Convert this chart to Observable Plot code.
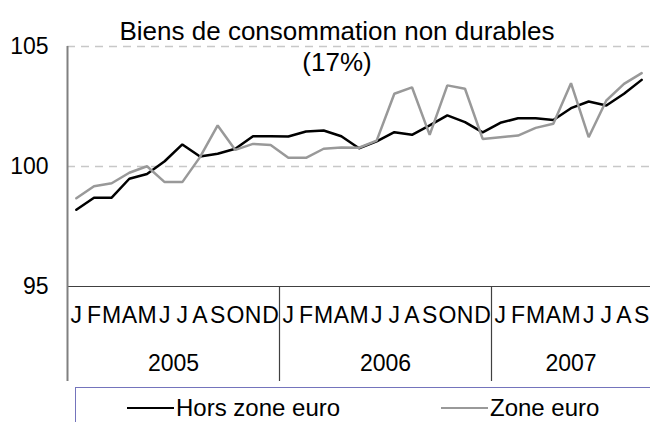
<!DOCTYPE html>
<html>
<head>
<meta charset="utf-8">
<script src="https://cdn.jsdelivr.net/npm/d3@7"></script>
<script src="https://cdn.jsdelivr.net/npm/@observablehq/plot@0.6"></script>
<style>
  html, body { margin: 0; padding: 0; background: #fff; }
  #wrap { position: relative; width: 650px; height: 423px; overflow: hidden; font-family: "Liberation Sans", Arial, sans-serif; }
  #legend { position: absolute; left: 75px; top: 387px; width: 574px; height: 34px;
            border-left: 1.5px solid #7474bc; border-top: 1.5px solid #7474bc; }
  .item { position: absolute; top: 8px; font-size: 24px; line-height: 24px; color: #000; display: flex; align-items: center; white-space: nowrap; }
  .sw { display: inline-block; width: 47px; height: 0; margin-right: 2px; }
</style>
</head>
<body>
<div id="wrap">
  <div id="chart"></div>
  <div id="legend"></div>
</div>
<script>
const title = "Biens de consommation non durables\n(17%)";
const years = ["2005", "2006", "2007"];
const monthLetters = ["J","F","M","A","M","J","J","A","S","O","N","D"];
const monthsPerYear = [12, 12, 9];
const seriesNames = ["Hors zone euro", "Zone euro"];
const seriesColors = ["#000000", "#999999"];
const yTicks = [95, 100, 105];

const horsZoneEuro = [98.2, 98.7, 98.7, 99.49, 99.69, 100.22, 100.92, 100.42, 100.53, 100.74, 101.26, 101.26,
  101.25, 101.46, 101.5, 101.26, 100.76, 101.05, 101.43, 101.32, 101.71, 102.13, 101.85, 101.42,
  101.82, 102.01, 102.01, 101.94, 102.43, 102.71, 102.54, 103.03, 103.61];
const zoneEuro = [98.68, 99.18, 99.3, 99.74, 100.01, 99.35, 99.35, 100.39, 101.71, 100.69, 100.94, 100.9,
  100.36, 100.36, 100.74, 100.79, 100.78, 101.08, 103.03, 103.3, 101.32, 103.38, 103.24, 101.15,
  101.22, 101.29, 101.61, 101.78, 103.47, 101.22, 102.75, 103.44, 103.89];

// Build month index / labels
const months = [];
const yearInfo = [];
let idx = 0;
years.forEach((y, k) => {
  const start = idx;
  for (let m = 0; m < monthsPerYear[k]; m++) { months.push({i: idx, label: monthLetters[m]}); idx++; }
  yearInfo.push({year: y, center: (start + idx - 1) / 2, end: idx - 0.5});
});
const n = months.length;
const dividers = yearInfo.slice(0, -1).map(d => d.end);

const data = [];
[horsZoneEuro, zoneEuro].forEach((arr, s) => arr.forEach((v, i) => data.push({i, v, s: seriesNames[s]})));

const chart = Plot.plot({
  width: 650,
  height: 423,
  marginTop: 46,
  marginBottom: 137,
  marginLeft: 67,
  marginRight: 0,
  style: { fontFamily: "Liberation Sans, Arial, sans-serif", fontSize: "23px", background: "transparent", overflow: "visible" },
  x: { domain: [-0.5, n - 0.5], axis: null },
  y: { domain: [95, 105], axis: null },
  color: { domain: seriesNames, range: seriesColors },
  marks: [
    Plot.ruleY([100, 105], { stroke: "#c8c8c8", strokeWidth: 1.5, strokeDasharray: "8,6" }),
    Plot.ruleY([95], { stroke: "#404040", strokeWidth: 1.2 }),
    Plot.ruleX(dividers, { stroke: "#404040", strokeWidth: 1.2, insetTop: 240, insetBottom: -95 }),
    Plot.ruleX([-0.5], { stroke: "#808080", strokeWidth: 2, insetBottom: -95 }),
    Plot.axisY({ ticks: yTicks, tickSize: 0, tickPadding: 19, fontSize: 23, fill: "#000", label: null }),
    Plot.text(months, { x: "i", text: "label", frameAnchor: "bottom", dy: 36, fontSize: 23, fill: "#000" }),
    Plot.text(yearInfo, { x: "center", text: "year", frameAnchor: "bottom", dy: 84, fontSize: 23, fill: "#000" }),
    Plot.text([title], { text: d => d, frameAnchor: "top", dx: -22, dy: -1, lineAnchor: "middle", lineHeight: 1.2, fontSize: 26, fill: "#000" }),
    Plot.line(data, { x: "i", y: "v", z: "s", stroke: "s", strokeWidth: 2.5, strokeLinejoin: "miter" })
  ]
});
document.getElementById("chart").appendChild(chart);

// Legend
const legend = document.getElementById("legend");
const legendPos = [51, 365];
seriesNames.forEach((name, k) => {
  const it = document.createElement("div");
  it.className = "item";
  it.style.left = legendPos[k] + "px";
  const sw = document.createElement("span");
  sw.className = "sw";
  sw.style.borderTop = "2.5px solid " + seriesColors[k];
  it.appendChild(sw);
  it.appendChild(document.createTextNode(name));
  legend.appendChild(it);
});
</script>
</body>
</html>
